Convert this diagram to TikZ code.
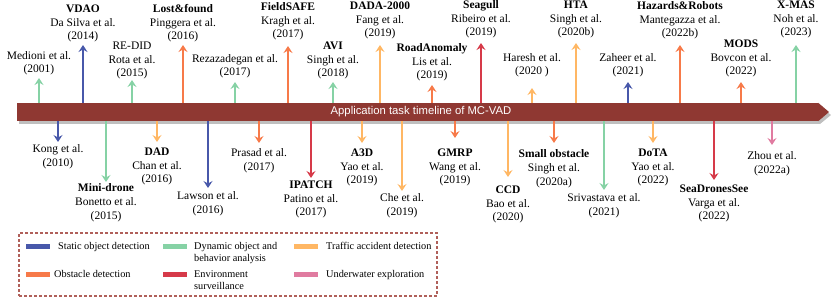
\documentclass[tikz,border=0pt]{standalone}
\usepackage{fontspec}
\setmainfont{Liberation Serif}
\newfontfamily\barfont{Liberation Sans}
\usetikzlibrary{arrows.meta}
\definecolor{cstatic}{RGB}{72,88,170}
\definecolor{cdyn}{RGB}{134,210,165}
\definecolor{ctraf}{RGB}{255,183,100}
\definecolor{cobst}{RGB}{247,122,73}
\definecolor{cenv}{RGB}{214,58,73}
\definecolor{cunder}{RGB}{224,123,160}
\definecolor{cbar}{RGB}{143,56,50}
\definecolor{cleg}{RGB}{176,96,90}
\newcommand\upitem[6]{%
  \node[lbl,anchor=south] (#1) at (#2,#4+5) {#6};
  \coordinate (#1t) at (#2,#3);
  \draw[arr,color=#5] (bar.north -| #1t) -- (#1t);}
\newcommand\downitem[6]{%
  \node[lbl,anchor=north] (#1) at (#2,#4-4) {#6};
  \coordinate (#1t) at (#2,#3);
  \draw[arr,color=#5] (bar.south -| #1t) -- (#1t);}
\begin{document}
\begin{tikzpicture}[x=1pt,y=-1pt,
  lbl/.style={inner sep=0.5pt, align=center, font=\fontsize{11.5}{13.8}\selectfont},
  arr/.style={line width=2pt, -{Stealth[length=7pt,width=9pt,inset=2.5pt]}},
  swatch/.style={minimum width=24pt, minimum height=5pt, inner sep=0pt, draw=none},
  legtxt/.style={inner sep=0pt, align=left, font=\fontsize{10.3}{12.5}\selectfont},
  legbox/.style={draw=cleg, line width=1.2pt, dash pattern=on 3pt off 2pt, inner sep=0pt}]
\useasboundingbox (0,0) rectangle (831,298);
% timeline bar with shadow
\fill[black,opacity=0.25] (19,106) rectangle (820,124);
\fill[black,opacity=0.25] (820,106) -- (831,115) -- (820,124) -- cycle;
\node[fill=cbar, minimum width=801pt, minimum height=18pt, inner sep=0pt,
      text=white, font=\barfont\fontsize{11.3}{13}\selectfont] (bar) at (417.5,112)
      {\hspace*{7pt}Application task timeline of MC-VAD};
\fill[cbar] (bar.north east) -- (829,112) -- (bar.south east) -- cycle;
% upper items
\upitem{medioni}{39}{78}{71}{cdyn}{Medioni et al.\\(2001)}
\upitem{vdao}{83}{45}{38}{cstatic}{\textbf{VDAO}\\Da Silva et al.\\(2014)}
\upitem{redid}{132}{80}{75}{cdyn}{RE-DID\\Rota et al.\\(2015)}
\upitem{lost}{183}{45}{38}{cobst}{\textbf{Lost\&found}\\Pinggera et al.\\(2016)}
\upitem{reza}{235}{82}{74}{cdyn}{Rezazadegan et al.\\(2017)}
\upitem{field}{288}{46}{36}{cobst}{\textbf{FieldSAFE}\\Kragh et al.\\(2017)}
\upitem{avi}{333}{82}{75}{cdyn}{\textbf{AVI}\\Singh et al.\\(2018)}
\upitem{dada}{380}{45}{35}{ctraf}{\textbf{DADA-2000}\\Fang et al.\\(2019)}
\upitem{road}{432}{85}{77}{cobst}{\textbf{RoadAnomaly}\\Lis et al.\\(2019)}
\upitem{seagull}{481}{43}{34}{cenv}{\textbf{Seagull}\\Ribeiro et al.\\(2019)}
\upitem{haresh}{532}{88}{73}{ctraf}{Haresh et al.\\(2020 )}
\upitem{hta}{576}{43}{34}{ctraf}{\textbf{HTA}\\Singh et al.\\(2020b)}
\upitem{zaheer}{628}{82}{73}{cstatic}{Zaheer et al.\\(2021)}
\upitem{hazards}{680}{45}{35}{cobst}{\textbf{Hazards\&Robots}\\Mantegazza et al.\\(2022b)}
\upitem{mods}{741}{82}{73}{cobst}{\textbf{MODS}\\Bovcon et al.\\(2022)}
\upitem{xmas}{796}{45}{34}{cdyn}{\textbf{X-MAS}\\Noh et al.\\(2023)}
% lower items
\downitem{kong}{58}{142}{148}{cstatic}{Kong et al.\\(2010)}
\downitem{mini}{106}{182}{187}{cdyn}{\textbf{Mini-drone}\\Bonetto et al.\\(2015)}
\downitem{dad}{157}{142}{151}{ctraf}{\textbf{DAD}\\Chan et al.\\(2016)}
\downitem{lawson}{208}{188}{195}{cstatic}{Lawson et al.\\(2016)}
\downitem{prasad}{259}{143}{152}{cobst}{Prasad et al.\\(2017)}
\downitem{ipatch}{311}{178}{184}{cenv}{\textbf{IPATCH}\\Patino et al.\\(2017)}
\downitem{athreed}{362}{143}{152}{ctraf}{\textbf{A3D}\\Yao et al.\\(2019)}
\downitem{che}{402}{191}{197}{ctraf}{Che et al.\\(2019)}
\downitem{gmrp}{455}{138}{152}{cobst}{\textbf{GMRP}\\Wang et al.\\(2019)}
\downitem{ccd}{508}{177}{189}{ctraf}{\textbf{CCD}\\Bao et al.\\(2020)}
\downitem{small}{554}{143}{153}{cobst}{\textbf{Small obstacle}\\Singh et al.\\(2020a)}
\downitem{sriv}{604}{190}{197}{cdyn}{Srivastava et al.\\(2021)}
\downitem{dota}{653}{143}{152}{ctraf}{\textbf{DoTA}\\Yao et al.\\(2022)}
\downitem{seadrones}{714}{180}{188}{cenv}{\textbf{SeaDronesSee}\\Varga et al.\\(2022)}
\downitem{zhou}{772}{145}{155}{cunder}{Zhou et al.\\(2022a)}
% legend
\node[legbox, minimum width=418pt, minimum height=63pt] (legend) at (228,264.5) {};
\node[swatch, fill=cstatic] (s1) at (38,246) {};
\node[legtxt, anchor=north west] (l1) at (58,242) {Static object detection};
\node[swatch, fill=cdyn] (s2) at (175,246) {};
\node[legtxt, anchor=north west] (l2) at (194,242) {Dynamic object and\\behavior analysis};
\node[swatch, fill=ctraf] (s3) at (306,246) {};
\node[legtxt, anchor=north west] (l3) at (326,242) {Traffic accident detection};
\node[swatch, fill=cobst] (s4) at (38,274) {};
\node[legtxt, anchor=north west] (l4) at (54,270) {Obstacle detection};
\node[swatch, fill=cenv] (s5) at (175,274) {};
\node[legtxt, anchor=north west] (l5) at (194,270) {Environment\\surveillance};
\node[swatch, fill=cunder] (s6) at (306,274) {};
\node[legtxt, anchor=north west] (l6) at (326,270) {Underwater exploration};
\end{tikzpicture}
\end{document}
